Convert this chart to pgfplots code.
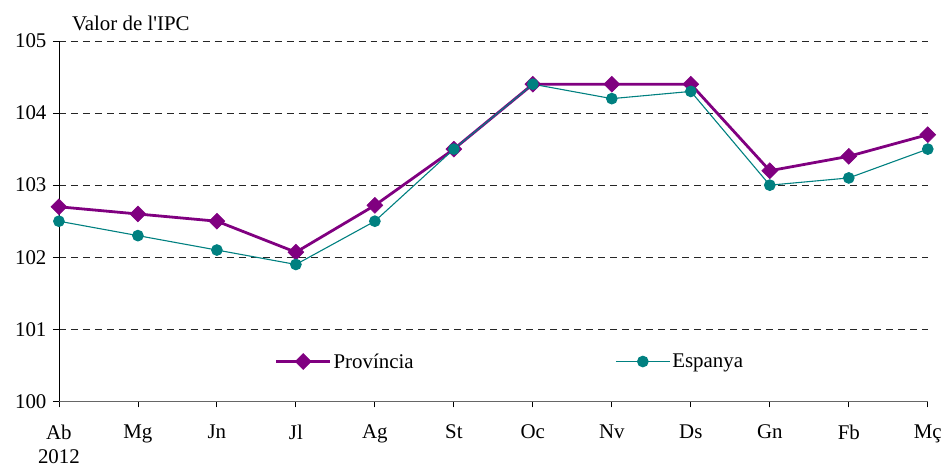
\documentclass[border=0pt]{standalone}
\usepackage{pgfplots}
\pgfplotsset{compat=1.18}
\usepackage{fontspec}
\setmainfont{Liberation Serif}
\definecolor{prov}{HTML}{800080}
\definecolor{esp}{HTML}{008080}
\begin{document}
\begin{tikzpicture}
\begin{axis}[
  scale only axis, width=870bp, height=361bp,
  xmin=0, xmax=11, ymin=100, ymax=105,
  xtick={0,...,11},
  xticklabels={{Ab\\2012},Mg,Jn,Jl,Ag,St,Oc,Nv,Ds,Gn,Fb,Mç},
  xticklabel style={align=center, anchor=north, yshift=-14bp, font=\fontsize{21}{24}\selectfont},
  ytick={100,...,105},
  yticklabel style={font=\fontsize{21}{24}\selectfont, xshift=-3bp},
  /pgf/number format/assume math mode=true,
  axis x line*=bottom, axis y line*=left,
  x axis line style={draw=gray!80!black, -},
  y axis line style={draw=black, -},
  tick align=outside, major tick length=6bp,
  tick style={black, line width=0.8pt},
  ymajorgrids, major grid style={black!85, line width=0.8pt, dash pattern=on 7bp off 5bp},
  clip=false,
  legend columns=2,
  legend style={draw=none, fill=none, at={(rel axis cs:0,0)}, anchor=west, xshift=213bp, yshift=40bp,
    font=\fontsize{21}{24}\selectfont, /tikz/every even column/.append style={column sep=200bp}},
  legend image code/.code={\draw[mark repeat=2,mark phase=2,#1] plot coordinates {(0bp,0bp) (27bp,0bp) (54bp,0bp)};},
]
\addplot[color=prov, line width=2.8bp, mark=diamond*, mark size=8bp, mark options={solid, fill=prov, line width=0.5pt, xscale=1.333}]
  coordinates {(0,102.7) (1,102.6) (2,102.5) (3,102.07) (4,102.72) (5,103.5) (6,104.4) (7,104.4) (8,104.4) (9,103.2) (10,103.4) (11,103.7)};
\addlegendentry{Província}
\addplot[color=esp, line width=1.1bp, mark=*, mark size=5.3bp, mark options={solid, fill=esp}]
  coordinates {(0,102.5) (1,102.3) (2,102.1) (3,101.9) (4,102.5) (5,103.5) (6,104.4) (7,104.2) (8,104.3) (9,103.0) (10,103.1) (11,103.5)};
\addlegendentry{Espanya}
\node[anchor=base west, font=\fontsize{21}{24}\selectfont, inner sep=0pt] at ([xshift=13bp, yshift=10bp]rel axis cs:0,1) {Valor de l\textquotesingle IPC};
\path ([xshift=-59bp,yshift=-68bp]rel axis cs:0,0) rectangle ([xshift=16bp,yshift=41bp]rel axis cs:1,1);
\end{axis}
\end{tikzpicture}
\end{document}
